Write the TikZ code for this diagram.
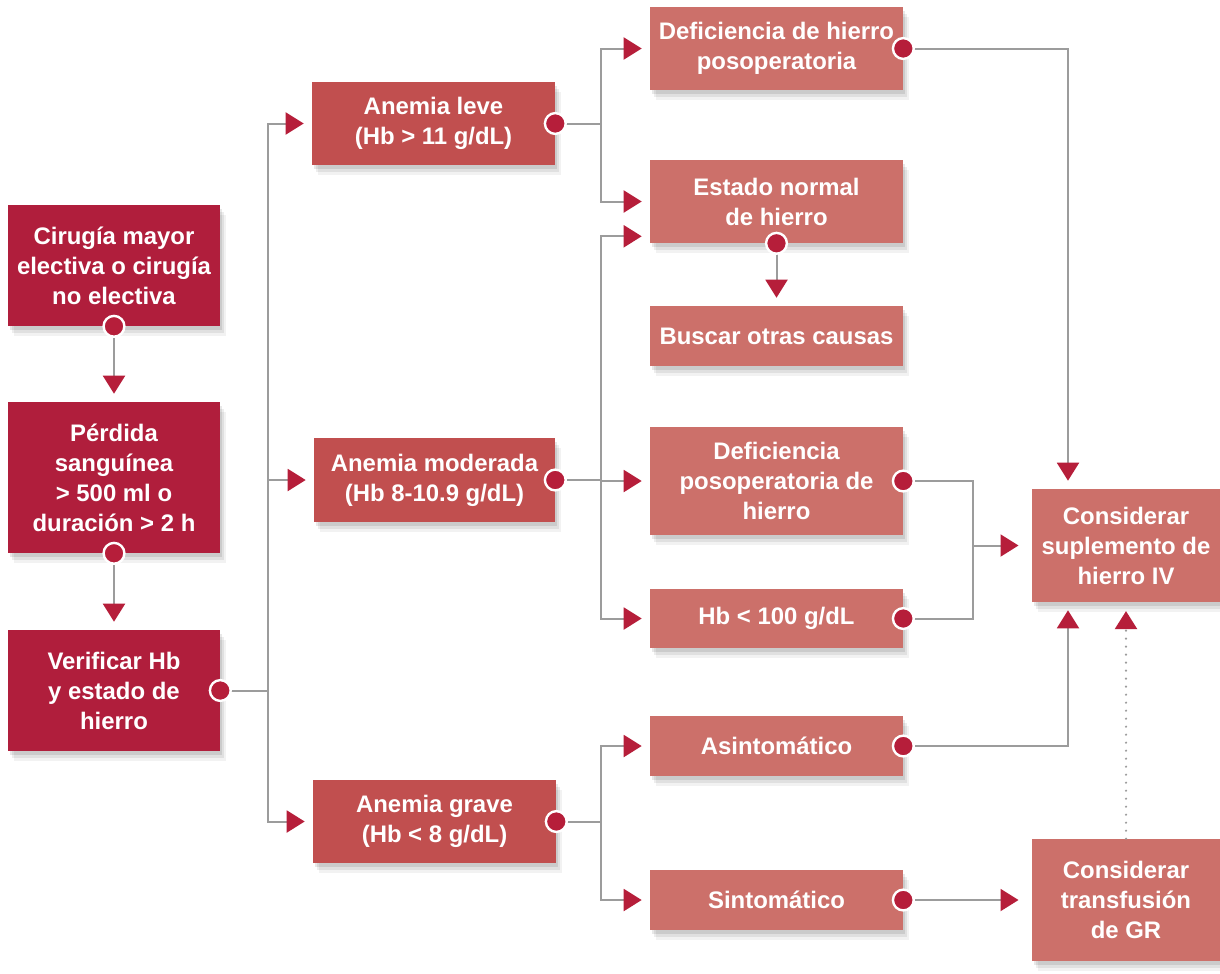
\documentclass[tikz,border=0pt]{standalone}
\usepackage{fontspec}
\setmainfont{Liberation Sans}
\usepackage{xcolor}
\usetikzlibrary{arrows.meta,shadows}
\definecolor{andarkred}{HTML}{B01E3C}
\definecolor{anmidred}{HTML}{C14F4F}
\definecolor{anlightred}{HTML}{CC706A}
\definecolor{antipred}{HTML}{B61E3A}
\definecolor{angray}{HTML}{9C9C9C}
\tikzset{
  anbox/.style={rectangle, text=white, inner sep=0pt, align=center,
    font=\bfseries\fontsize{17}{21.3}\selectfont,
    drop shadow={shadow xshift=0.16cm, shadow yshift=-0.24cm, opacity=0.05, fill=black},
    drop shadow={shadow xshift=0.11cm, shadow yshift=-0.17cm, opacity=0.07, fill=black},
    drop shadow={shadow xshift=0.06cm, shadow yshift=-0.1cm, opacity=0.09, fill=black}},
  andark/.style={anbox, fill=andarkred},
  anmid/.style={anbox, fill=anmidred},
  anlight/.style={anbox, fill=anlightred},
  andot/.style={circle, fill=antipred, draw=white, line width=0.06cm, minimum size=0.52cm, inner sep=0pt},
  anlink/.style={draw=angray, line width=0.05cm},
  anarrow/.style={anlink, -{Triangle[length=0.45cm, width=0.55cm, color=antipred]}, shorten >=0.2cm},
  andotted/.style={draw=angray, line width=0.06cm, line cap=round, dash pattern=on 0pt off 0.2cm,
    -{Triangle[length=0.45cm, width=0.55cm, color=antipred]}, shorten >=0.22cm},
}
\begin{document}
\begin{tikzpicture}[x=0.025cm, y=-0.025cm]
\fill[white] (0,0) rectangle (1220,973);
\useasboundingbox (0,0) rectangle (1220,973);
\node[andark, minimum width=5.3cm, minimum height=3.025cm] (A) at (114,265.5) {Cirugía mayor\\electiva o cirugía\\no electiva};
\node[andark, minimum width=5.3cm, minimum height=3.775cm] (B) at (114,477.5) {Pérdida\\sanguínea\\> 500 ml o\\duración > 2 h};
\node[andark, minimum width=5.3cm, minimum height=3.025cm] (C) at (114,690.5) {Verificar Hb\\y estado de\\hierro};
\node[anmid, minimum width=6.075cm, minimum height=2.075cm] (D) at (433.5,123.5) {Anemia leve\\(Hb > 11 g/dL)};
\node[anmid, minimum width=6.025cm, minimum height=2.1cm] (E) at (434.5,480) {Anemia moderada\\(Hb 8-10.9 g/dL)};
\node[anmid, minimum width=6.075cm, minimum height=2.075cm] (F) at (434.5,821.5) {Anemia grave\\(Hb < 8 g/dL)};
\node[anlight, minimum width=6.325cm, minimum height=2.075cm] (G) at (776.5,48.5) {Deficiencia de hierro\\posoperatoria};
\node[anlight, minimum width=6.325cm, minimum height=2.075cm] (H) at (776.5,201.5) {Estado normal\\de hierro};
\node[anlight, minimum width=6.325cm, minimum height=1.5cm] (I) at (776.5,336) {Buscar otras causas};
\node[anlight, minimum width=6.325cm, minimum height=2.7cm] (J) at (776.5,481) {Deficiencia\\posoperatoria de\\hierro};
\node[anlight, minimum width=6.325cm, minimum height=1.475cm] (K) at (776.5,618.5) {Hb < 100 g/dL};
\node[anlight, minimum width=6.325cm, minimum height=1.5cm] (M) at (776.5,746) {Asintomático};
\node[anlight, minimum width=6.325cm, minimum height=1.5cm] (N) at (776.5,900) {Sintomático};
\node[anlight, minimum width=4.7cm, minimum height=2.825cm] (L) at (1126,545.5) {Considerar\\suplemento de\\hierro IV};
\node[anlight, minimum width=4.7cm, minimum height=3.05cm] (O) at (1126,900) {Considerar\\transfusión\\de GR};
\draw[anarrow] (A.south) -- (B.north);
\draw[anarrow] (B.south) -- (C.north);
\coordinate (t0) at (268,690.5);
\draw[anlink] (C.east) -- (t0);
\draw[anarrow] (t0) |- (D.west);
\draw[anarrow] (t0) |- (E.west);
\draw[anarrow] (t0) |- (F.west);
\coordinate (d0) at (601,123.5);
\draw[anlink] (D.east) -- (d0);
\draw[anarrow] (d0) |- (G.west);
\draw[anarrow] (d0) |- (H.west);
\coordinate (e0) at (601,480);
\draw[anlink] (E.east) -- (e0);
\draw[anarrow] (e0) |- ([yshift=0.175cm]H.south west);
\draw[anarrow] (e0) |- (J.west);
\draw[anarrow] (e0) |- (K.west);
\coordinate (f0) at (601,821.5);
\draw[anlink] (F.east) -- (f0);
\draw[anarrow] (f0) |- (M.west);
\draw[anarrow] (f0) |- (N.west);
\draw[anarrow] (H.south) -- (I.north);
\draw[anarrow] (G.east) -| ([xshift=-1.45cm]L.north);
\draw[anarrow] (M.east) -| ([xshift=-1.45cm]L.south);
\coordinate (jk) at (973,545.5);
\draw[anlink] (J.east) -| (jk);
\draw[anlink] (K.east) -| (jk);
\draw[anarrow, shorten >=0.33cm] (jk) -- (L.west);
\draw[anarrow, shorten >=0.33cm] (N.east) -- (O.west);
\draw[andotted] (O.north) -- (L.south);
\foreach \n/\a in {A/south, B/south, C/east, D/east, E/east, F/east, G/east, H/south, J/east, K/east, M/east, N/east}
  \node[andot] (dot\n) at (\n.\a) {};
\end{tikzpicture}
\end{document}
